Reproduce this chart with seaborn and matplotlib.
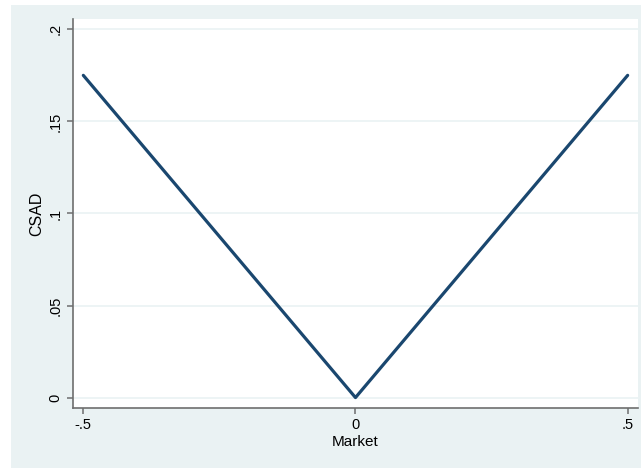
import matplotlib
matplotlib.use("Agg")
import matplotlib.pyplot as plt
import matplotlib.patches as mpatches
import seaborn as sns
import pandas as pd

# CSAD against market return
market = [-0.5, 0.0, 0.5]
csad = [0.175, 0.0, 0.175]
x_ticks = [-0.5, 0.0, 0.5]
x_labels = ["-.5", "0", ".5"]
y_ticks = [0.0, 0.05, 0.10, 0.15, 0.20]
y_labels = ["0", ".05", ".1", ".15", ".2"]

df = pd.DataFrame({"Market": market, "CSAD": csad})

sns.set_theme(style="white")
plt.rcParams["font.family"] = ["Liberation Sans", "DejaVu Sans"]

W, H, DPI = 641, 468, 100
fig = plt.figure(figsize=(W / DPI, H / DPI), dpi=DPI, facecolor="white")

# light blue graph region
bg = "#EAF2F3"
fig.patches.append(mpatches.Rectangle((11 / W, 0), 1 - 11 / W, 1 - 5 / H,
                                      transform=fig.transFigure, facecolor=bg,
                                      edgecolor="none", zorder=-10))

left, right = 72.7, 638
top, bottom = 19, 407.7
ax = fig.add_axes([left / W, 1 - bottom / H, (right - left) / W, (bottom - top) / H])
ax.set_facecolor("white")

sns.lineplot(data=df, x="Market", y="CSAD", ax=ax, color="#1A476F",
             linewidth=2.3, zorder=3)

ax.set_xlim(-0.5195, 0.519)
ax.set_ylim(-0.0055, 0.2056)
ax.set_xticks(x_ticks)
ax.set_xticklabels(x_labels)
ax.set_yticks(y_ticks)
ax.set_yticklabels(y_labels, rotation=90, va="center")

for y in y_ticks:
    ax.axhline(y, color=bg, linewidth=1.2, zorder=1)

for s in ["top", "right"]:
    ax.spines[s].set_visible(False)
for s in ["left", "bottom"]:
    ax.spines[s].set_color("#6E6E6E")
    ax.spines[s].set_linewidth(1.2)

ax.tick_params(axis="both", which="major", direction="out", length=4.5,
               width=1.1, color="#6E6E6E", labelsize=10.5, labelcolor="black",
               pad=3, left=True, bottom=True)

ax.set_xlabel("Market", fontsize=11, color="black", labelpad=2)
ax.set_ylabel("CSAD", fontsize=11.5, color="black", labelpad=3)

fig.savefig("out.png", dpi=DPI, facecolor="white")
